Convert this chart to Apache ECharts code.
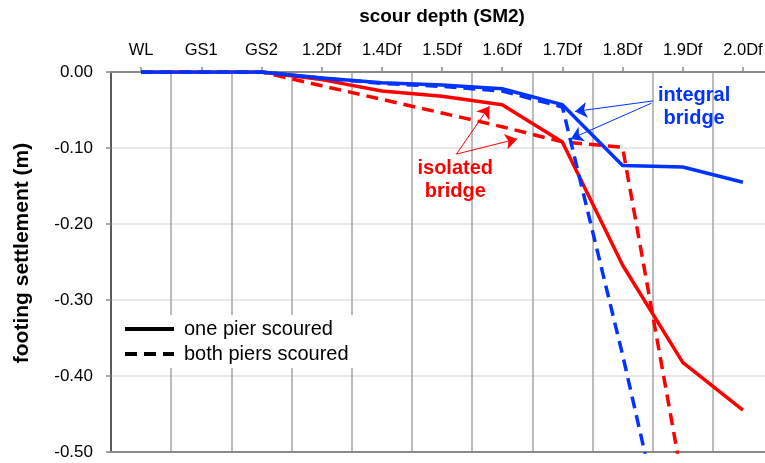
<!DOCTYPE html>
<html>
<head>
<meta charset="utf-8">
<script src="https://cdn.jsdelivr.net/npm/echarts@6/dist/echarts.min.js"></script>
<style>
  html, body { margin: 0; padding: 0; background: #fff; }
  #chart { width: 765px; height: 463px; }
</style>
</head>
<body>
<div id="chart"></div>
<script>
// Scour depth stages along the top axis
const categories = ['WL', 'GS1', 'GS2', '1.2Df', '1.4Df', '1.5Df', '1.6Df', '1.7Df', '1.8Df', '1.9Df', '2.0Df'];

// Footing settlement (m)
const isolatedOnePier   = [0, 0, 0, -0.010, -0.025, -0.032, -0.043, -0.092, -0.254, -0.382, -0.445];
const isolatedBothPiers = [0, 0, 0, -0.018, -0.036, -0.054, -0.072, -0.092, -0.099, -0.540, null];
const integralOnePier   = [0, 0, 0, -0.008, -0.014, -0.017, -0.022, -0.043, -0.123, -0.125, -0.145];
const integralBothPiers = [0, 0, 0, -0.008, -0.015, -0.019, -0.025, -0.046, -0.372, -0.720, null];

const yTicks = [0, -0.1, -0.2, -0.3, -0.4, -0.5];

// Callout arrows: [from, to] in (category index, settlement)
const integralArrows = [
  [[8.51, -0.038], [7.21, -0.052]],
  [[8.48, -0.041], [7.14, -0.088]]
];
const isolatedArrows = [
  [[5.24, -0.108], [5.79, -0.045]],
  [[5.24, -0.108], [6.25, -0.088]]
];
// Callout labels: [text, category index, settlement, colour]
const callouts = [
  ['integral\nbridge', 9.19, -0.046, '#0033ff'],
  ['isolated\nbridge', 5.22, -0.142, '#ff0000']
];

const RED = '#ff0000';
const BLUE = '#0033ff';
const FONT = '"Liberation Sans", Arial, sans-serif';
const DASH = [12, 7];

const chart = echarts.init(document.getElementById('chart'), null, { renderer: 'canvas' });

function lineSeries(name, data, color, dashed, legendName) {
  return {
    name: legendName || name,
    type: 'line',
    data: data,
    xAxisIndex: 0,
    yAxisIndex: 0,
    symbol: 'none',
    connectNulls: false,
    clip: true,
    lineStyle: { color: color, width: 3.5, type: dashed ? DASH : 'solid', join: 'round', cap: 'butt' },
    itemStyle: { color: color },
    silent: true,
    z: 3
  };
}

function arrowSeries(name, arrows, color) {
  return {
    name: name,
    type: 'lines',
    coordinateSystem: 'cartesian2d',
    xAxisIndex: 2,
    yAxisIndex: 0,
    symbol: ['none', 'arrow'],
    symbolSize: 12,
    lineStyle: { color: color, width: 1, opacity: 1, curveness: 0 },
    data: arrows.map(a => ({ coords: a })),
    silent: true,
    z: 4
  };
}

const option = {
  animation: false,
  backgroundColor: '#ffffff',
  grid: { left: 111, top: 72, width: 662, height: 380, containLabel: false, outerBoundsMode: 'none' },
  legend: {
    left: 117,
    top: 315,
    orient: 'vertical',
    itemWidth: 49,
    itemHeight: 14,
    itemGap: 5,
    backgroundColor: '#ffffff',
    padding: [4, 6, 4, 6],
    itemStyle: { opacity: 0 },
    lineStyle: { width: 4, color: '#000' },
    textStyle: { fontFamily: FONT, fontSize: 20, color: '#000', padding: [0, 0, 0, 5] },
    data: ['one pier scoured', 'both piers scoured']
  },
  xAxis: [
    {
      type: 'category',
      position: 'top',
      data: categories,
      boundaryGap: true,
      name: 'scour depth (SM2)',
      nameLocation: 'middle',
      nameGap: 46,
      nameTextStyle: { fontFamily: FONT, fontSize: 19, fontWeight: 'bold', color: '#000' },
      axisLine: { show: true, lineStyle: { color: '#8a8a8a', width: 2 } },
      axisTick: { show: true, alignWithLabel: true, inside: false, length: 5, lineStyle: { color: '#8a8a8a', width: 1.5 } },
      axisLabel: { fontFamily: FONT, fontSize: 16.5, color: '#000', margin: 13, interval: 0 },
      splitLine: { show: true, interval: 0, lineStyle: { color: '#a6a6a6', width: 1.5 } }
    },
    {
      type: 'category',
      position: 'bottom',
      data: categories,
      axisLine: { show: true, lineStyle: { color: '#8a8a8a', width: 2 } },
      axisTick: { show: false },
      axisLabel: { show: false },
      splitLine: { show: false }
    },
    {
      type: 'value',
      position: 'bottom',
      min: -0.5,
      max: categories.length - 0.5,
      show: false
    }
  ],
  yAxis: {
    type: 'value',
    min: yTicks[yTicks.length - 1],
    max: yTicks[0],
    interval: 0.1,
    axisLine: { show: true, onZero: false, lineStyle: { color: '#5a5a5a', width: 2 } },
    axisTick: { show: true, inside: false, length: 5, lineStyle: { color: '#8a8a8a', width: 1.5 } },
    axisLabel: { fontFamily: FONT, fontSize: 17, color: '#000', margin: 18, formatter: v => v.toFixed(2) },
    splitLine: { show: true, lineStyle: { color: '#e0e0e0', width: 1.5 } }
  },
  series: [
    lineSeries('isolated both', isolatedBothPiers, RED, true),
    lineSeries('isolated one', isolatedOnePier, RED, false),
    lineSeries('integral both', integralBothPiers, BLUE, true),
    lineSeries('integral one', integralOnePier, BLUE, false),
    // legend keys drawn in black
    lineSeries('one', [], '#000', false, 'one pier scoured'),
    lineSeries('both', [], '#000', true, 'both piers scoured'),
    arrowSeries('integral arrows', integralArrows, BLUE),
    arrowSeries('isolated arrows', isolatedArrows, RED)
  ]
};

chart.setOption(option);

// Place callout text and the y-axis title after the grid is laid out
const graphics = callouts.map(([text, xi, yv, color]) => {
  const p = chart.convertToPixel({ xAxisIndex: 2, yAxisIndex: 0 }, [xi, yv]);
  return {
    type: 'text',
    x: p[0],
    y: p[1],
    z: 10,
    style: {
      text: text,
      fill: color,
      font: 'bold 20px ' + FONT,
      align: 'center',
      verticalAlign: 'middle',
      lineHeight: 23
    }
  };
});
graphics.push({
  type: 'text',
  x: 22,
  y: 253,
  rotation: Math.PI / 2,
  z: 10,
  style: {
    text: 'footing settlement (m)',
    fill: '#000',
    font: 'bold 21px ' + FONT,
    align: 'center',
    verticalAlign: 'middle'
  }
});
chart.setOption({ graphic: graphics });
</script>
</body>
</html>
